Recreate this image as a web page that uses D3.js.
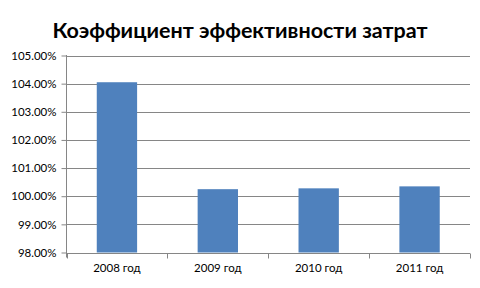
<!doctype html>
<html lang="ru">
<head>
<meta charset="utf-8">
<title>Коэффициент эффективности затрат</title>
<style>
  html, body { margin: 0; padding: 0; background: #fff; overflow: hidden; }
  svg { display: block; }
  .tick text { font-family: Lato, "Open Sans", sans-serif; font-size: 11.5px; fill: #000; }
</style>
</head>
<body>
<svg id="chart" width="480" height="288"></svg>
<script src="https://cdn.jsdelivr.net/npm/d3@7"></script>
<script>
const categories = ["2008 год", "2009 год", "2010 год", "2011 год"];
const values = [104.05, 100.25, 100.28, 100.35];
const yTicks = [98, 99, 100, 101, 102, 103, 104, 105];
const title = "Коэффициент эффективности затрат";

const svg = d3.select("#chart");
const plotLeft = 66.5, plotRight = 470, plotTop = 55.5, plotBottom = 252.5;

const x = d3.scaleBand().domain(categories).range([plotLeft, plotRight]).paddingInner(0.6).paddingOuter(0.3);
const y = d3.scaleLinear().domain([98, 105]).range([plotBottom, plotTop]);

svg.append("text")
    .attr("x", 240).attr("y", 38)
    .attr("text-anchor", "middle")
    .style("font-family", "Lato, 'Open Sans', sans-serif")
    .style("font-weight", "bold")
    .style("font-size", "21.5px")
    .text(title);

// gridlines
svg.append("g").selectAll("line").data(yTicks).join("line")
    .attr("x1", plotLeft).attr("x2", plotRight)
    .attr("y1", d => Math.round(y(d)) + 0.5).attr("y2", d => Math.round(y(d)) + 0.5)
    .attr("stroke", "#868686");

svg.selectAll("rect.bar").data(values).join("rect")
    .attr("class", "bar")
    .attr("x", (d, i) => x(categories[i]))
    .attr("width", x.bandwidth())
    .attr("y", d => y(d))
    .attr("height", d => y(98) - y(d))
    .attr("fill", "#4F81BD");

const yAxis = d3.axisLeft(y).tickValues(yTicks).tickSize(5).tickPadding(5)
    .tickFormat(d => d.toFixed(2) + "%");
const gy = svg.append("g").attr("transform", `translate(${plotLeft},0)`).call(yAxis);
gy.select(".domain").remove();
gy.selectAll(".tick line").attr("stroke", "#868686");
gy.append("line").attr("x1", 0).attr("x2", 0).attr("y1", plotTop - 0.5).attr("y2", plotBottom + 5)
    .attr("stroke", "#868686");

// x axis, ticks sit on the category boundaries
const xAxis = d3.axisBottom(x).tickSize(0).tickPadding(10);
const gx = svg.append("g").attr("transform", `translate(0,${Math.round(plotBottom) + 0.5})`).call(xAxis);
gx.select(".domain").remove();
const bounds = d3.range(categories.length + 1).map(i => plotLeft + i * x.step());
gx.selectAll("line.sep").data(bounds).join("line").attr("class", "sep")
    .attr("x1", d => Math.round(d) + 0.5).attr("x2", d => Math.round(d) + 0.5)
    .attr("y1", 0).attr("y2", 5).attr("stroke", "#868686");
</script>
</body>
</html>
